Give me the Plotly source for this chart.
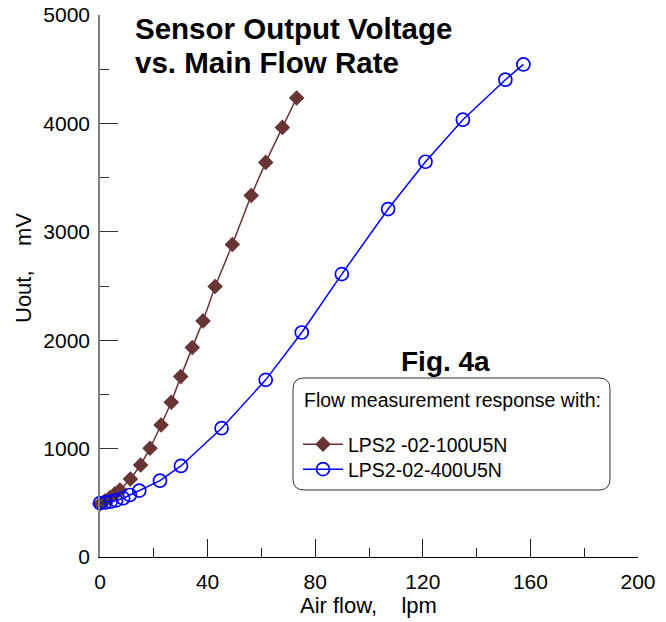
import plotly.graph_objects as go

# Data
flow_100 = [0, 1.8, 3.6, 5.5, 7.4, 11.3, 15.1, 18.6, 22.7, 26.5, 30.0, 34.3, 38.3, 42.8, 49.2, 56.2, 61.6, 67.8, 73.1]
uout_100 = [489, 517, 545, 582, 618, 720, 849, 1003, 1218, 1428, 1664, 1932, 2178, 2495, 2883, 3335, 3640, 3963, 4234]

flow_400 = [0, 2, 4, 6, 8.6, 11.1, 14.6, 22.3, 30.1, 45.2, 61.6, 75.0, 89.9, 107.1, 121.0, 134.9, 150.7, 157.4]
uout_400 = [497, 503, 511, 522, 542, 572, 612, 704, 840, 1188, 1634, 2071, 2610, 3210, 3646, 4034, 4403, 4544]

name_100 = "LPS2 -02-100U5N"
name_400 = "LPS2-02-400U5N"
x_ticks = [0, 40, 80, 120, 160, 200]
y_ticks = [0, 1000, 2000, 3000, 4000, 5000]

FONT = "Liberation Sans, Arial, Helvetica, sans-serif"
BROWN = "#693434"
BLUE = "#0000FF"

fig = go.Figure()
fig.add_trace(go.Scatter(
    x=flow_100, y=uout_100, name=name_100, mode="lines+markers",
    line=dict(color=BROWN, width=1.5),
    marker=dict(symbol="diamond", size=12, color=BROWN),
    cliponaxis=False, legend="legend",
))
fig.add_trace(go.Scatter(
    x=flow_400, y=uout_400, name=name_400, mode="lines+markers",
    line=dict(color=BLUE, width=1.5),
    marker=dict(symbol="circle-open", size=13, color=BLUE, line=dict(width=1.7, color=BLUE)),
    cliponaxis=False, legend="legend2",
))

# page body has an 8px margin; compensate so the picture lines up in a 666x622 window
OX, OY = 8, 8
W, H = 666 - OX, 622 - OY
ml, mr, mt, mb = 100 - OX, 28, 15 - OY, 65
pw, ph = W - ml - mr, H - mt - mb

def px_to_paper(xp, yp):
    return ((xp - OX) - ml) / pw, (H - mb - (yp - OY)) / ph

# rounded legend box
bx0, by0, bx1, by1, r = 293, 378, 610, 490, 11
def P(xp, yp):
    a, b = px_to_paper(xp, yp)
    return f"{a:.5f},{b:.5f}"
path = (f"M {P(bx0 + r, by0)} L {P(bx1 - r, by0)} Q {P(bx1, by0)} {P(bx1, by0 + r)} "
        f"L {P(bx1, by1 - r)} Q {P(bx1, by1)} {P(bx1 - r, by1)} "
        f"L {P(bx0 + r, by1)} Q {P(bx0, by1)} {P(bx0, by1 - r)} "
        f"L {P(bx0, by0 + r)} Q {P(bx0, by0)} {P(bx0 + r, by0)} Z")
fig.add_shape(type="path", path=path, xref="paper", yref="paper",
              line=dict(color="#333333", width=1), fillcolor="rgba(0,0,0,0)", layer="above")

def leg(xp, yp):
    lx, ly = px_to_paper(xp, yp)
    return dict(x=lx, y=ly, xanchor="left", yanchor="top",
                bgcolor="rgba(0,0,0,0)", borderwidth=0,
                font=dict(size=19.5, family=FONT), itemwidth=40)

tick_common = dict(ticks="inside", ticklen=18, tickwidth=1, showgrid=False, zeroline=False,
                   automargin=False, ticklabeloverflow="allow",
                   tickfont=dict(size=21, family=FONT))

fig.update_layout(
    width=W, height=H,
    margin=dict(l=ml, r=mr, t=mt, b=mb, autoexpand=False),
    paper_bgcolor="white", plot_bgcolor="white",
    font=dict(family=FONT, color="black", size=20),
    showlegend=True,
    legend=leg(298, 425),
    legend2=leg(298, 450),
    xaxis=dict(
        range=[0, 200], tickvals=x_ticks, ticktext=[str(v) for v in x_ticks],
        tickcolor="#222222", showline=True, linecolor="black", linewidth=1,
        minor=dict(dtick=20, ticks="inside", ticklen=9, tickcolor="#222222", showgrid=False),
        ticklabelstandoff=6, **tick_common,
    ),
    yaxis=dict(
        range=[0, 5000], tickvals=y_ticks, ticktext=[str(v) for v in y_ticks],
        tickcolor="#333333", showline=True, linecolor="#7f7f7f", linewidth=1.5,
        minor=dict(dtick=500, ticks="inside", ticklen=9, tickcolor="#333333", showgrid=False),
        ticklabelstandoff=4, **tick_common,
    ),
)

def ann(text, xp, yp, size, xanchor="center", yanchor="middle", textangle=0):
    ax, ay = px_to_paper(xp, yp)
    fig.add_annotation(text=text, xref="paper", yref="paper", x=ax, y=ay,
                       xanchor=xanchor, yanchor=yanchor, showarrow=False, textangle=textangle,
                       font=dict(size=size, family=FONT, color="black"))

# axis titles
ann("Air flow,\u00a0\u00a0\u00a0\u00a0lpm", 368, 605, 22)
ann("Uout,\u00a0\u00a0\u00a0\u00a0mV", 23, 268, 22, textangle=-90)

# chart title
ann("<b>Sensor Output Voltage</b>", 133, 28, 29.5, xanchor="left")
ann("<b>vs. Main Flow Rate</b>", 133, 62, 29.5, xanchor="left")
ann("<b>Fig. 4a</b>", 445, 361, 28)

# legend heading
ann("Flow measurement response with:", 302, 400, 19.5, xanchor="left")

fig.write_html("out.html")
